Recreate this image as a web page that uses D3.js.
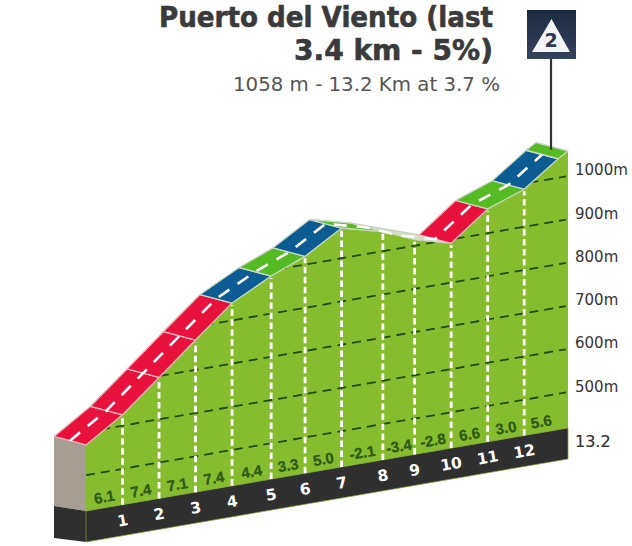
<!DOCTYPE html>
<html>
<head>
<meta charset="utf-8">
<script src="https://cdn.jsdelivr.net/npm/d3@7"></script>
<style>
html,body{margin:0;padding:0;background:#fff;}
svg{display:block;}
</style>
</head>
<body>
<div id="viz"></div>
<script>
// profile, last knot is the finish
let kmPos = [0,1,2,3,4,5.07,6,7,8.13,9,10,11,12,12.93,13.2];
let elevation = [570,625,697,769,840,887,919,970,945,914,891,956,987,1044,1058];
let gradeLabels = ['6.1','7.4','7.1','7.4','4.4','3.3','5.0','-2.1','-3.4','-2.8','6.6','3.0','5.6'];
let kmLabels = ['1','2','3','4','5','6','7','8','9','10','11','12'];
let roadClass = ['r','r','r','r','b','g','b','g','p','p','r','g','b','g'];
let gridLevels = [500,600,700,800,900,1000];
let titleLines = ['Puerto del Viento (last','3.4 km - 5%)'];
let titleWidths = [334,199];
let subtitle = '1058 m - 13.2 Km at 3.7 %';
let totalKm = '13.2';

let roadColors = {r:'#e8123c', b:'#0b5c92', g:'#55bb22', p:'#d3dfc4'};
let grass = '#86bd2e', band = '#2f2f2f', rock = '#a79e93';
let labelFont = '"DejaVu Sans",Verdana,sans-serif';
let smallFont = '"Liberation Sans",Arial,sans-serif';

let x = d3.scaleLinear().domain([0,13.2]).range([86,568]);
let baseY = d3.scaleLinear().domain([0,13.2]).range([511,428]);
let h = d3.scaleLinear().domain([417,1058]).range([0,277]);

let depthX = -32, depthY = -8.5, bandH = 31;
let tilt = -Math.atan(83/482)*180/Math.PI;

let front = kmPos.map((k,i) => [x(k), baseY(k)-h(elevation[i])]);
let back = front.map(p => [p[0]+depthX, p[1]+depthY]);
let mid = front.map(p => [p[0]+depthX/2, p[1]+depthY/2]);
let line = d3.line();

let svg = d3.select('#viz').append('svg').attr('width',632).attr('height',546);

let defs = svg.append('defs');
let face = kmPos.map((k,i) => [x(k), baseY(k)-h(elevation[i])]);
face.push([x(13.2), baseY(13.2)], [x(0), baseY(0)]);
defs.append('clipPath').attr('id','faceClip').append('path').attr('d', line(face)+'Z');
let grad = defs.append('linearGradient').attr('id','sign').attr('x1',0).attr('x2',0).attr('y1',0).attr('y2',1);
grad.append('stop').attr('offset','0%').attr('stop-color','#1c2a40');
grad.append('stop').attr('offset','100%').attr('stop-color','#33435c');

// left end of the block
svg.append('path')
  .attr('d', line([back[0], front[0], [x(0),baseY(0)], [x(0)+depthX,baseY(0)-5]])+'Z')
  .attr('fill',rock);
svg.append('path')
  .attr('d', line([[x(0)+depthX,baseY(0)-5], [x(0),baseY(0)], [x(0),baseY(0)+bandH], [x(0)+depthX,baseY(0)+bandH-4]])+'Z')
  .attr('fill',band);

svg.append('path').attr('d', line(face)+'Z').attr('fill',grass);

// km band under the profile
svg.append('path')
  .attr('d', line([[x(0),baseY(0)], [x(13.2),baseY(13.2)], [x(13.2),baseY(13.2)+bandH], [x(0),baseY(0)+bandH]])+'Z')
  .attr('fill',band)
  .attr('stroke','#7fa83a')
  .attr('stroke-width',0.7);

// height lines, dashed, only inside the face
svg.append('g').attr('clip-path','url(#faceClip)')
  .selectAll('line').data(gridLevels).enter().append('line')
  .attr('x1',x(0))
  .attr('x2',566)
  .attr('y1',d => baseY(0)-h(d))
  .attr('y2',d => baseY(x.invert(566))-h(d))
  .attr('stroke','#1f4a14')
  .attr('stroke-width',1.8)
  .attr('stroke-dasharray','9,6');

// km ticks
svg.selectAll('.kmtick').data(kmLabels).enter().append('line')
  .attr('class','kmtick')
  .attr('x1',(d,i) => front[i+1][0])
  .attr('x2',(d,i) => front[i+1][0])
  .attr('y1',(d,i) => baseY(kmPos[i+1]))
  .attr('y2',(d,i) => front[i+1][1]+2)
  .attr('stroke','#fff')
  .attr('stroke-width',2.8)
  .attr('stroke-dasharray','6.5,3.5');

// pale strip where the road goes downhill
svg.append('path')
  .attr('d', line([back[7], back[8], back[10], front[10], front[9], front[8], front[7]])+'Z')
  .attr('fill',roadColors.p)
  .attr('stroke','#c4cfbb')
  .attr('stroke-width',1.2);

// road surface
svg.selectAll('.road').data(roadClass).enter().append('path')
  .attr('class','road')
  .attr('d',(d,i) => line([back[i], back[i+1], front[i+1], front[i]])+'Z')
  .attr('fill',d => roadColors[d])
  .attr('stroke',d => d=='r' ? '#f0b7bd' : '#c9d6c4')
  .attr('stroke-width',d => d=='p' ? 0 : 1.3)
  .attr('stroke-linejoin','round');

svg.append('path')
  .attr('d', line(mid.slice(0,14)))
  .attr('fill','none')
  .attr('stroke','#fff')
  .attr('stroke-width',2.6)
  .attr('stroke-dasharray','13,10');

// percent per km
svg.selectAll('.grade').data(gradeLabels).enter().append('text')
  .attr('class','grade')
  .attr('transform',(d,i) => {
    let k = (kmPos[i]+kmPos[i+1])/2;
    return 'translate('+x(k)+','+(baseY(k)-11)+') rotate('+tilt+')';
  })
  .attr('text-anchor','middle')
  .attr('dy','0.36em')
  .style('font','bold 15px '+smallFont)
  .attr('fill','#2c5a17')
  .attr('stroke','#2c5a17')
  .attr('stroke-width',0.3)
  .text(d => d);

svg.selectAll('.kmnum').data(kmLabels).enter().append('text')
  .attr('class','kmnum')
  .attr('transform',(d,i) => 'translate('+x(kmPos[i+1])+','+(baseY(kmPos[i+1])+15.5)+') rotate('+tilt+')')
  .attr('text-anchor','middle')
  .attr('dy','0.36em')
  .style('font','bold 15.5px '+labelFont)
  .attr('fill','#fff')
  .text(d => d);

// right hand labels
svg.selectAll('.level').data(gridLevels).enter().append('text')
  .attr('class','level')
  .attr('x',575)
  .attr('y',d => baseY(13.2)-h(d)-6)
  .attr('dy','0.36em')
  .style('font','15px '+labelFont)
  .attr('fill','#333')
  .text(d => d+'m');

svg.append('text')
  .attr('x',575).attr('y',441).attr('dy','0.36em')
  .style('font','16px '+labelFont)
  .attr('fill','#333')
  .attr('stroke','#333')
  .attr('stroke-width',0.2)
  .text(totalKm);

// climb sign
svg.append('line')
  .attr('x1',551).attr('x2',551)
  .attr('y1',59).attr('y2',front[13][1]-9)
  .attr('stroke','#333').attr('stroke-width',2.2);
svg.append('rect')
  .attr('x',527).attr('y',10).attr('width',49).attr('height',49)
  .attr('fill','url(#sign)');
svg.append('path')
  .attr('d', line([[551.5,19],[570,52],[532,52]])+'Z')
  .attr('fill','#f4f4f4');
svg.append('text')
  .attr('x',551).attr('y',40).attr('dy','0.36em')
  .attr('text-anchor','middle')
  .style('font','bold 19px '+labelFont)
  .attr('fill','#2a3850')
  .text('2');

// title
svg.selectAll('.title').data(titleLines).enter().append('text')
  .attr('class','title')
  .attr('x',(d,i) => 493-titleWidths[i])
  .attr('y',(d,i) => 27+i*33)
  .attr('textLength',(d,i) => titleWidths[i])
  .attr('lengthAdjust','spacingAndGlyphs')
  .style('font','bold 28px '+labelFont)
  .attr('fill','#3a3a3a')
  .attr('stroke','#3a3a3a')
  .attr('stroke-width',0.6)
  .text(d => d);

svg.append('text')
  .attr('x',233).attr('y',91)
  .attr('textLength',267)
  .attr('lengthAdjust','spacingAndGlyphs')
  .style('font','20px '+labelFont)
  .attr('fill','#555')
  .text(subtitle);
</script>
</body>
</html>
